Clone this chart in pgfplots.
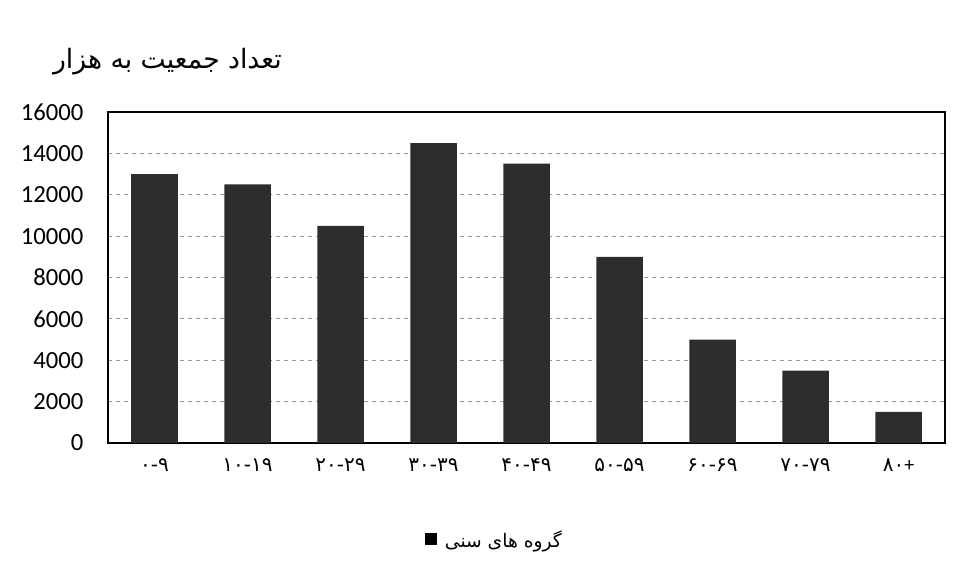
\documentclass[border=0pt]{standalone}
\usepackage{fontspec}
\setmainfont{Carlito}
\newfontfamily\fa[Script=Arabic]{DejaVu Sans}
\TeXXeTstate=1
\usepackage{pgfplots}
\pgfplotsset{compat=1.18}

\definecolor{barcol}{RGB}{45,45,45}

% population by age group (thousands)
\pgfplotstableread{
x y
0 13000
1 12500
2 10500
3 14500
4 13500
5 9000
6 5000
7 3500
8 1500
}\pop

\begin{document}
\begin{tikzpicture}
\path[use as bounding box] (-81pt,-97.5pt) rectangle (641.25pt,332.25pt);
\begin{axis}[
    at={(0,0)}, anchor=south west,
    scale only axis,
    width=627.75pt, height=248.25pt,
    ybar, bar width=0.5,
    xmin=-0.5, xmax=8.5,
    ymin=0, ymax=16000,
    xtick={0,...,8},
    xticklabels={{\fa ۰-۹},{\fa ۱۰-۱۹},{\fa ۲۰-۲۹},{\fa ۳۰-۳۹},{\fa ۴۰-۴۹},{\fa ۵۰-۵۹},{\fa ۶۰-۶۹},{\fa ۷۰-۷۹},{{\fa ۸۰}+}},
    ytick={0,2000,...,16000},
    scaled y ticks=false,
    ymajorgrids,
    major grid style={dashed, gray!80, line width=0.6pt},
    axis line style={line width=2pt},
    major tick length=0pt,
    /pgf/number format/assume math mode=true,
    /pgf/number format/1000 sep={},
    yticklabel style={font=\fontsize{18.5}{22}\selectfont, xshift=-15pt},
    xticklabel style={font=\fontsize{15}{18}\selectfont, yshift=-8pt},
    title={\fa\beginR تعداد جمعیت به هزار\endR},
    title style={at={(axis description cs:0.071,1.127)}, anchor=center, font=\fontsize{20}{24}\selectfont},
    legend style={at={(axis description cs:0.462,-0.293)}, anchor=center, draw=none, fill=none, font=\fontsize{14}{17}\selectfont},
    legend image code/.code={\fill[black] (-2pt,-4pt) rectangle (7pt,5pt);},
]
\addplot[fill=barcol, draw=none] table[x=x, y=y] {\pop};
\legend{{\hspace{4pt}\fa\beginR گروه های سنی\endR}}
\end{axis}
\end{tikzpicture}
\end{document}
